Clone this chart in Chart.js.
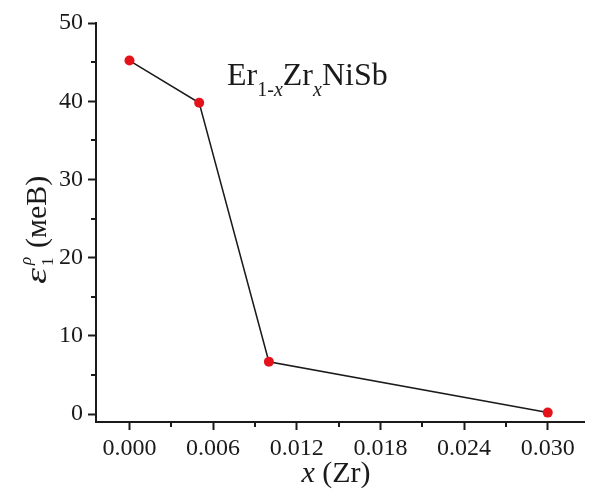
<!DOCTYPE html>
<html><head><meta charset="utf-8">
<script src="https://cdn.jsdelivr.net/npm/chart.js@4.4.0/dist/chart.umd.min.js"></script>
<style>html,body{margin:0;padding:0;background:#fff}</style>
</head><body>
<canvas id="c" width="589" height="489"></canvas>
<script>
const xValues = [0.000, 0.005, 0.010, 0.030];
const yValues = [45.2, 39.8, 6.7, 0.2];
const xMajorTicks = [0, 0.006, 0.012, 0.018, 0.024, 0.030];
const xMinorTicks = [0.003, 0.009, 0.015, 0.021, 0.027];
const xTickLabels = ['0.000', '0.006', '0.012', '0.018', '0.024', '0.030'];
const yMajorTicks = [0, 10, 20, 30, 40, 50];
const yMinorTicks = [5, 15, 25, 35, 45];
const yTickLabels = ['0', '10', '20', '30', '40', '50'];

const SERIF = '"Liberation Serif", "Times New Roman", Times, serif';
const INK = '#1a1a1a';

const decor = {
  id: 'decor',
  afterDraw(chart) {
    const ctx = chart.ctx;
    const xs = chart.scales.x, ys = chart.scales.y, a = chart.chartArea;
    ctx.save();
    ctx.strokeStyle = INK;
    ctx.lineWidth = 2;
    ctx.beginPath();
    xMinorTicks.forEach(v => {
      const p = Math.round(xs.getPixelForValue(v));
      ctx.moveTo(p, a.bottom); ctx.lineTo(p, a.bottom + 5);
    });
    yMinorTicks.forEach(v => {
      const p = Math.round(ys.getPixelForValue(v));
      ctx.moveTo(a.left, p); ctx.lineTo(a.left - 5, p);
    });
    ctx.stroke();

    ctx.fillStyle = INK;
    ctx.textBaseline = 'alphabetic';
    ctx.textAlign = 'left';
    let x = xs.getPixelForValue(0.0070);
    const y = ys.getPixelForValue(42.1);
    const big = '32px ' + SERIF, small = '20px ' + SERIF, smallI = 'italic 20px ' + SERIF;
    const seg = [
      ['Er', big, 0], ['1-', small, 11], ['x', smallI, 11], ['Zr', big, 0],
      ['x', smallI, 11], ['NiSb', big, 0]
    ];
    seg.forEach(s => {
      ctx.font = s[1];
      ctx.fillText(s[0], x, y + s[2]);
      x += ctx.measureText(s[0]).width;
    });

    // x axis title
    ctx.font = 'italic 30px ' + SERIF;
    const w1 = ctx.measureText('x').width;
    ctx.font = '30px ' + SERIF;
    const w2 = ctx.measureText(' (Zr)').width;
    const tx = 336 - (w1 + w2) / 2;
    ctx.font = 'italic 30px ' + SERIF;
    ctx.fillText('x', tx, 482);
    ctx.font = '30px ' + SERIF;
    ctx.fillText(' (Zr)', tx + w1, 482);

    // y axis title
    ctx.save();
    ctx.translate(46, 284);
    ctx.rotate(-Math.PI / 2);
    ctx.save();
    ctx.scale(1.4, 1);
    ctx.font = 'italic 29px ' + SERIF;
    ctx.fillText('\u03B5', 0, 0);
    const we = ctx.measureText('\u03B5').width * 1.4;
    ctx.restore();
    let px = we + 2;
    ctx.font = '17px ' + SERIF;
    ctx.fillText('1', px, 7);
    ctx.font = 'italic 17px ' + SERIF;
    ctx.fillText('\u03C1', px + 1, -15);
    px += 18;
    ctx.font = '30px ' + SERIF;
    ctx.fillText('(\u043C\u0435\u0412)', px, 0);
    ctx.restore();

    ctx.restore();
  }
};

function build() {
  new Chart(document.getElementById('c'), {
    type: 'scatter',
    data: {
      datasets: [{
        data: xValues.map((v, i) => ({ x: v, y: yValues[i] })),
        showLine: true,
        borderColor: INK,
        borderWidth: 1.5,
        pointRadius: 5,
        pointHoverRadius: 5,
        pointBackgroundColor: '#e5121b',
        pointBorderWidth: 0,
        clip: false
      }]
    },
    options: {
      responsive: false,
      animation: false,
      devicePixelRatio: 1,
      layout: { padding: { left: 0, right: 2, top: 23, bottom: 0 } },
      plugins: { legend: { display: false }, tooltip: { enabled: false } },
      scales: {
        x: {
          type: 'linear',
          min: -0.0024, max: 0.0326,
          afterBuildTicks: s => { s.ticks = xMajorTicks.map(v => ({ value: v })); },
          afterFit: s => { s.height = 67; },
          ticks: {
            callback: (v, i) => xTickLabels[i],
            font: { family: SERIF, size: 24 },
            color: INK,
            padding: 4,
            maxRotation: 0,
            autoSkip: false
          },
          grid: { drawOnChartArea: false, tickLength: 8, tickWidth: 2, tickColor: INK },
          border: { color: INK, width: 2 }
        },
        y: {
          min: -1, max: 50,
          afterBuildTicks: s => { s.ticks = yMajorTicks.map(v => ({ value: v })); },
          afterFit: s => { s.width = 96; },
          ticks: {
            callback: (v, i) => yTickLabels[i],
            font: { family: SERIF, size: 24 },
            color: INK,
            padding: 5,
            autoSkip: false
          },
          grid: { drawOnChartArea: false, tickLength: 8, tickWidth: 2, tickColor: INK },
          border: { color: INK, width: 2 }
        }
      }
    },
    plugins: [decor]
  });
}

const loads = ['24px', '32px', 'italic 30px', '20px', 'italic 20px', 'italic 29px', '17px', 'italic 17px'].map(f =>
  document.fonts.load(f + ' "Liberation Serif"', '0.x(Zr)\u03B5\u03C1\u043C\u0435\u0412'));
Promise.all(loads).then(build, build);
</script>
</body></html>
